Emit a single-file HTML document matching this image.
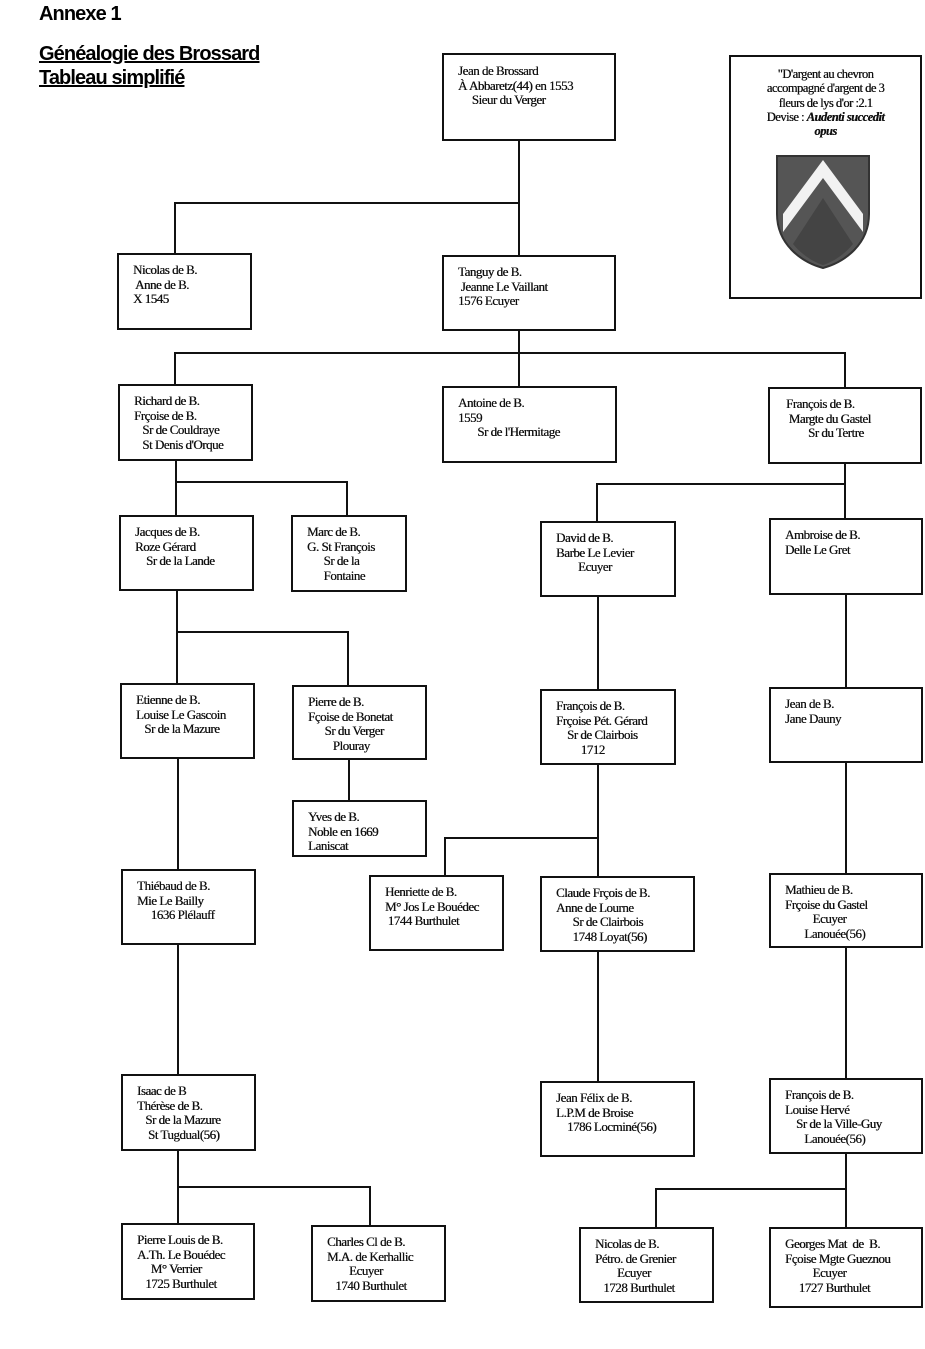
<!DOCTYPE html>
<html><head><meta charset="utf-8"><style>
body{margin:0;background:#fff;}
#p{position:relative;width:925px;height:1349px;overflow:hidden;background:#fff;}
.b{position:absolute;border:2px solid #111;box-sizing:border-box;font-family:"Liberation Serif",serif;font-size:13px;line-height:14.5px;color:#111;white-space:pre;padding:8px 0 0 14px;letter-spacing:-0.5px;text-shadow:0.3px 0 0 #111;}
.h{position:absolute;background:#111;height:2px;}
.v{position:absolute;background:#111;width:2px;}
.t{position:absolute;font-family:"Liberation Sans",sans-serif;font-weight:bold;font-size:20px;color:#000;letter-spacing:-0.9px;}
</style></head><body><div id="p">
<div class="t" style="left:39px;top:3px">Annexe 1</div>
<div class="t" style="left:39px;top:43px;text-decoration:underline">Généalogie des Brossard</div>
<div class="t" style="left:39px;top:67px;text-decoration:underline">Tableau simplifié</div>

<!-- connectors -->
<div class="v" style="left:518px;top:140px;height:115px"></div>
<div class="h" style="left:174px;top:202px;width:346px"></div>
<div class="v" style="left:174px;top:202px;height:52px"></div>
<div class="v" style="left:518px;top:330px;height:57px"></div>
<div class="h" style="left:174px;top:352px;width:672px"></div>
<div class="v" style="left:174px;top:352px;height:33px"></div>
<div class="v" style="left:844px;top:352px;height:36px"></div>

<div class="v" style="left:175px;top:460px;height:56px"></div>
<div class="h" style="left:175px;top:481px;width:173px"></div>
<div class="v" style="left:346px;top:481px;height:35px"></div>
<div class="v" style="left:844px;top:463px;height:56px"></div>
<div class="h" style="left:596px;top:483px;width:250px"></div>
<div class="v" style="left:596px;top:483px;height:39px"></div>

<div class="v" style="left:176px;top:590px;height:94px"></div>
<div class="h" style="left:176px;top:631px;width:173px"></div>
<div class="v" style="left:347px;top:631px;height:55px"></div>
<div class="v" style="left:597px;top:596px;height:94px"></div>
<div class="v" style="left:845px;top:594px;height:94px"></div>

<div class="v" style="left:348px;top:759px;height:42px"></div>
<div class="v" style="left:177px;top:758px;height:112px"></div>
<div class="v" style="left:597px;top:764px;height:113px"></div>
<div class="h" style="left:444px;top:837px;width:155px"></div>
<div class="v" style="left:444px;top:837px;height:39px"></div>
<div class="v" style="left:845px;top:762px;height:112px"></div>

<div class="v" style="left:177px;top:944px;height:131px"></div>
<div class="v" style="left:597px;top:951px;height:131px"></div>
<div class="v" style="left:845px;top:947px;height:132px"></div>

<div class="v" style="left:177px;top:1150px;height:74px"></div>
<div class="h" style="left:177px;top:1186px;width:194px"></div>
<div class="v" style="left:369px;top:1186px;height:40px"></div>
<div class="v" style="left:845px;top:1153px;height:75px"></div>
<div class="h" style="left:655px;top:1188px;width:192px"></div>
<div class="v" style="left:655px;top:1188px;height:40px"></div>

<!-- boxes -->
<div class="b" style="left:442px;top:53px;width:174px;height:88px;padding-top:9px">Jean de Brossard
À Abbaretz(44) en 1553
     Sieur du Verger</div>
<div class="b" style="left:729px;top:55px;width:193px;height:244px;padding:10px 0 0 0;text-align:center;line-height:14.3px;font-size:12.5px">"D'argent au chevron
accompagné d'argent de 3
fleurs de lys d'or :2.1
Devise : <i><b>Audenti succedit</b></i>
<i><b>opus</b></i><svg style="position:absolute;left:44px;top:97px" width="96" height="116" viewBox="0 0 96 116"><path d="M2 2 H94 V60 C94 90 70 108 48 114 C26 108 2 90 2 60 Z" fill="#555" stroke="#333" stroke-width="2"/><path d="M8 60 L48 6 L88 60 L88 78 L48 24 L8 78 Z" fill="#f2f2f2"/><path d="M48 44 L78 90 C70 100 58 108 48 111 C38 108 26 100 18 90 Z" fill="#444"/></svg></div>

<div class="b" style="left:117px;top:253px;width:135px;height:77px;padding-top:8px">Nicolas de B.
 Anne de B.
X 1545</div>
<div class="b" style="left:442px;top:255px;width:174px;height:76px">Tanguy de B.
 Jeanne Le Vaillant
1576 Ecuyer</div>

<div class="b" style="left:118px;top:384px;width:135px;height:77px">Richard de B.
Frçoise de B.
   Sr de Couldraye
   St Denis d'Orque</div>
<div class="b" style="left:442px;top:386px;width:175px;height:77px">Antoine de B.
1559
       Sr de l'Hermitage</div>
<div class="b" style="left:768px;top:387px;width:154px;height:77px;padding-left:16px">François de B.
 Margte du Gastel
        Sr du Tertre</div>

<div class="b" style="left:119px;top:515px;width:135px;height:76px">Jacques de B.
Roze Gérard
    Sr de la Lande</div>
<div class="b" style="left:291px;top:515px;width:116px;height:77px">Marc de B.
G. St François
      Sr de la
      Fontaine</div>
<div class="b" style="left:540px;top:521px;width:136px;height:76px">David de B.
Barbe Le Levier
        Ecuyer</div>
<div class="b" style="left:769px;top:518px;width:154px;height:77px">Ambroise de B.
Delle Le Gret</div>

<div class="b" style="left:120px;top:683px;width:135px;height:76px">Etienne de B.
Louise Le Gascoin
   Sr de la Mazure</div>
<div class="b" style="left:292px;top:685px;width:135px;height:75px">Pierre de B.
Fçoise de Bonetat
      Sr du Verger
         Plouray</div>
<div class="b" style="left:540px;top:689px;width:136px;height:76px">François de B.
Frçoise Pét. Gérard
    Sr de Clairbois
         1712</div>
<div class="b" style="left:769px;top:687px;width:154px;height:76px">Jean de B.
Jane Dauny</div>

<div class="b" style="left:292px;top:800px;width:135px;height:57px">Yves de B.
Noble en 1669
Laniscat</div>

<div class="b" style="left:121px;top:869px;width:135px;height:76px">Thiébaud de B.
Mie Le Bailly
     1636 Plélauff</div>
<div class="b" style="left:369px;top:875px;width:135px;height:76px">Henriette de B.
M° Jos Le Bouédec
 1744 Burthulet</div>
<div class="b" style="left:540px;top:876px;width:155px;height:76px">Claude Frçois de B.
Anne de Lourne
      Sr de Clairbois
      1748 Loyat(56)</div>
<div class="b" style="left:769px;top:873px;width:154px;height:75px">Mathieu de B.
Frçoise du Gastel
          Ecuyer
       Lanouée(56)</div>

<div class="b" style="left:121px;top:1074px;width:135px;height:77px">Isaac de B
Thérèse de B.
   Sr de la Mazure
    St Tugdual(56)</div>
<div class="b" style="left:540px;top:1081px;width:155px;height:76px">Jean Félix de B.
L.P.M de Broise
    1786 Locminé(56)</div>
<div class="b" style="left:769px;top:1078px;width:154px;height:76px">François de B.
Louise Hervé
    Sr de la Ville-Guy
       Lanouée(56)</div>

<div class="b" style="left:121px;top:1223px;width:134px;height:77px">Pierre Louis de B.
A.Th. Le Bouédec
     M° Verrier
   1725 Burthulet</div>
<div class="b" style="left:311px;top:1225px;width:135px;height:77px">Charles Cl de B.
M.A. de Kerhallic
        Ecuyer
   1740 Burthulet</div>
<div class="b" style="left:579px;top:1227px;width:135px;height:76px">Nicolas de B.
Pétro. de Grenier
        Ecuyer
   1728 Burthulet</div>
<div class="b" style="left:769px;top:1227px;width:154px;height:81px">Georges Mat  de  B.
Fçoise Mgte Gueznou
          Ecuyer
     1727 Burthulet</div>
</div></body></html>
